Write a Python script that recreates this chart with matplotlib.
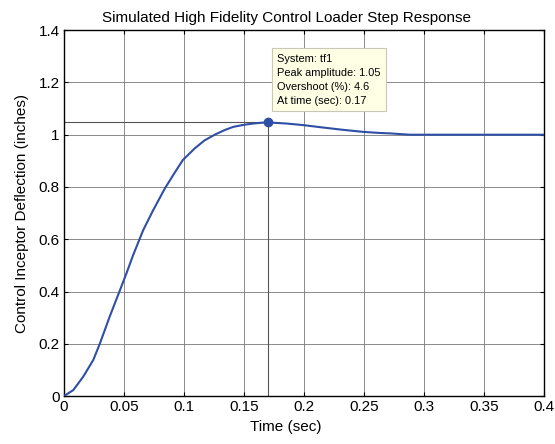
import matplotlib.pyplot as plt
import numpy as np

plt.rcParams['font.family'] = ['Liberation Sans', 'DejaVu Sans']

# step response
t = [0, 0.0078, 0.016, 0.0244, 0.030, 0.038, 0.0467, 0.052, 0.0575, 0.066,
     0.0744, 0.084, 0.092, 0.099, 0.109, 0.117, 0.126, 0.134, 0.141, 0.15,
     0.158, 0.165, 0.17, 0.185, 0.199, 0.215, 0.232, 0.249, 0.262, 0.272,
     0.288, 0.32, 0.36, 0.4]
y = [0, 0.023, 0.074, 0.138, 0.202, 0.303, 0.406, 0.469, 0.538, 0.635,
     0.712, 0.794, 0.853, 0.903, 0.948, 0.978, 1.001, 1.018, 1.030, 1.038,
     1.043, 1.046, 1.047, 1.043, 1.037, 1.028, 1.019, 1.011, 1.007, 1.005,
     1.0, 1.0, 1.0, 1.0]
peak_t = 0.17
peak_y = 1.047
tip_lines = ['System: tf1', 'Peak amplitude: 1.05',
             'Overshoot (%): 4.6', 'At time (sec): 0.17']

xticks = np.arange(0, 0.401, 0.05)
yticks = np.arange(0, 1.401, 0.2)

fig = plt.figure(figsize=(5.55, 4.44), dpi=100)
ax = fig.add_axes([0.1153, 0.108, 0.865, 0.824])

ax.plot(t, y, color='#2f4fa6', lw=1.5, zorder=3)
ax.plot([0, peak_t], [peak_y, peak_y], color='#555555', lw=0.8, zorder=2)
ax.plot([peak_t, peak_t], [0, peak_y], color='#555555', lw=0.8, zorder=2)
ax.plot([peak_t], [peak_y], 'o', color='#2f4fa6', ms=6, zorder=4)

ax.set_xlim(0, 0.4)
ax.set_ylim(0, 1.4)
ax.set_xticks(xticks)
ax.set_xticklabels(['0', '0.05', '0.1', '0.15', '0.2', '0.25', '0.3', '0.35', '0.4'])
ax.set_yticks(yticks)
ax.set_yticklabels(['0', '0.2', '0.4', '0.6', '0.8', '1', '1.2', '1.4'])
ax.grid(True, color='#777777', lw=0.6, ls='-')
ax.set_axisbelow(True)
ax.tick_params(direction='in', length=3, labelsize=11, top=True, right=True,
               colors='black', pad=3)
for s in ax.spines.values():
    s.set_linewidth(1.0)

ax.set_title('Simulated High Fidelity Control Loader Step Response',
             fontsize=11, pad=6, x=0.4625)
ax.set_xlabel('Time (sec)', fontsize=11, labelpad=4, x=0.4625)
ax.set_ylabel('Control Inceptor Deflection (inches)', fontsize=11, labelpad=7)

ax.text(0.1775, 1.21, '\n'.join(tip_lines), fontsize=7.9, linespacing=1.5,
        va='center', ha='left', zorder=5,
        bbox=dict(boxstyle='square,pad=0.5', fc='#ffffe6', ec='#c8c8b4', lw=0.8))

fig.savefig('out.png', dpi=100)
